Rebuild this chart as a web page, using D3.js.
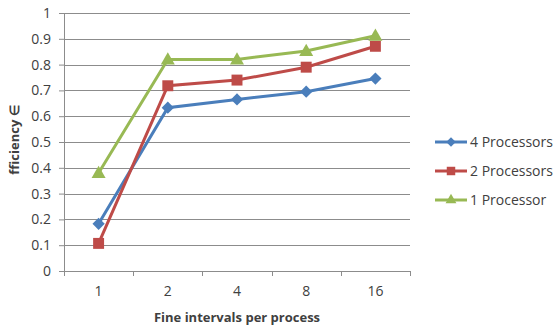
<!DOCTYPE html>
<html>
<head>
<meta charset="utf-8">
<script src="https://d3js.org/d3.v7.min.js"></script>
<style>
  body { margin: 0; background: #fff; }
  text { font-family: "Open Sans", sans-serif; fill: #404040; }
</style>
</head>
<body>
<div id="chart"></div>
<script>
// chart data
var categories = ["1", "2", "4", "8", "16"];
var yTicks = [0, 0.1, 0.2, 0.3, 0.4, 0.5, 0.6, 0.7, 0.8, 0.9, 1];
var seriesNames = ["4 Processors", "2 Processors", "1 Processor"];
var proc4 = [0.183, 0.633, 0.665, 0.695, 0.746];
var proc2 = [0.107, 0.718, 0.740, 0.790, 0.871];
var proc1 = [0.380, 0.820, 0.820, 0.853, 0.912];

var W = 555, H = 327;
var margin = {top: 13, right: 145, bottom: 56, left: 64};
var width = W - margin.left - margin.right,
    height = H - margin.top - margin.bottom;
var font = "'Open Sans', sans-serif";

var svg = d3.select("#chart").append("svg")
    .attr("width", W).attr("height", H);
var g = svg.append("g")
    .attr("transform", "translate(" + margin.left + "," + margin.top + ")");

var x = d3.scaleBand().domain(categories).range([0, width]);
var y = d3.scaleLinear().domain([0, 1]).range([height, 0]);

// wide diamond like the spreadsheet marker
var wideDiamond = {
  draw: function(ctx, size) {
    var r = Math.sqrt(size) / 2;
    ctx.moveTo(0, -r); ctx.lineTo(r, 0); ctx.lineTo(0, r); ctx.lineTo(-r, 0); ctx.closePath();
  }
};

// gridlines
g.append("g").selectAll("line")
    .data(yTicks.filter(function(d) { return d > 0; }))
    .enter().append("line")
    .attr("x1", 0).attr("x2", width)
    .attr("y1", function(d) { return Math.round(y(d)) + 0.5; })
    .attr("y2", function(d) { return Math.round(y(d)) + 0.5; })
    .attr("stroke", "#8c8c8c").attr("stroke-width", 1);

// y axis
var yAxis = g.append("g")
    .call(d3.axisLeft(y).tickValues(yTicks).tickSize(5).tickPadding(8)
          .tickFormat(function(d) { return d3.format("")(d); }));
yAxis.selectAll("line").attr("stroke", "#8c8c8c");
yAxis.select(".domain").attr("stroke", "#8c8c8c").attr("d", "M0.5," + height + "V0");
yAxis.selectAll("text").style("font-size", "14px").attr("fill", "#404040")
    .style("font-family", font);

// x axis
var xAxis = g.append("g")
    .attr("transform", "translate(0," + height + ")")
    .call(d3.axisBottom(x).tickSize(0).tickPadding(15));
xAxis.select(".domain").attr("stroke", "#8c8c8c").attr("d", "M0," + 0.5 + "H" + width);
xAxis.selectAll("text").style("font-size", "14px").attr("fill", "#404040")
    .style("font-family", font);
// tick marks on band edges
var edges = categories.map(function(c) { return x(c); }).concat([width]);
xAxis.append("g").selectAll("line").data(edges).enter().append("line")
    .attr("x1", function(d) { return Math.round(d) + 0.5; })
    .attr("x2", function(d) { return Math.round(d) + 0.5; })
    .attr("y1", 0).attr("y2", 5)
    .attr("stroke", "#8c8c8c");

// axis titles
svg.append("text")
    .attr("x", margin.left + width / 2).attr("y", 322)
    .attr("text-anchor", "middle")
    .style("font-size", "13px").style("font-weight", "bold")
    .attr("fill", "#333")
    .text("Fine intervals per process");
svg.append("text")
    .attr("transform", "translate(19,140) rotate(-90)")
    .attr("text-anchor", "middle")
    .style("font-size", "13px").style("font-weight", "bold")
    .attr("fill", "#333")
    .text("fficiency ∈");

var series = [
  {name: seriesNames[0], values: proc4, color: "#4a7ebb", shape: wideDiamond, size: 150},
  {name: seriesNames[1], values: proc2, color: "#be4b48", shape: d3.symbolSquare, size: 120},
  {name: seriesNames[2], values: proc1, color: "#98b954", shape: d3.symbolTriangle, size: 85}
];

var cx = function(i) { return x(categories[i]) + x.bandwidth() / 2; };
var line = d3.line()
    .x(function(d, i) { return cx(i); })
    .y(function(d) { return y(d); });

series.forEach(function(s) {
  g.append("path")
      .datum(s.values)
      .attr("fill", "none")
      .attr("stroke", s.color)
      .attr("stroke-width", 3)
      .attr("d", line);
  g.append("g").selectAll("path")
      .data(s.values).enter().append("path")
      .attr("d", d3.symbol().type(s.shape).size(s.size))
      .attr("transform", function(d, i) {
        return "translate(" + cx(i) + "," + y(d) + ")" +
          (s.shape === d3.symbolTriangle ? " translate(0,1)" : "");
      })
      .attr("fill", s.color);
});

// legend
var legend = svg.append("g");
series.forEach(function(s, i) {
  var ly = 142 + i * 29;
  legend.append("line")
      .attr("x1", 435).attr("x2", 467)
      .attr("y1", ly).attr("y2", ly)
      .attr("stroke", s.color).attr("stroke-width", 3);
  legend.append("path")
      .attr("d", d3.symbol().type(s.shape).size(s.size * 0.6))
      .attr("transform", "translate(451," + ly + ")")
      .attr("fill", s.color);
  legend.append("text")
      .attr("x", 470).attr("y", ly + 5)
      .style("font-size", "14px")
      .text(s.name);
});
</script>
</body>
</html>
